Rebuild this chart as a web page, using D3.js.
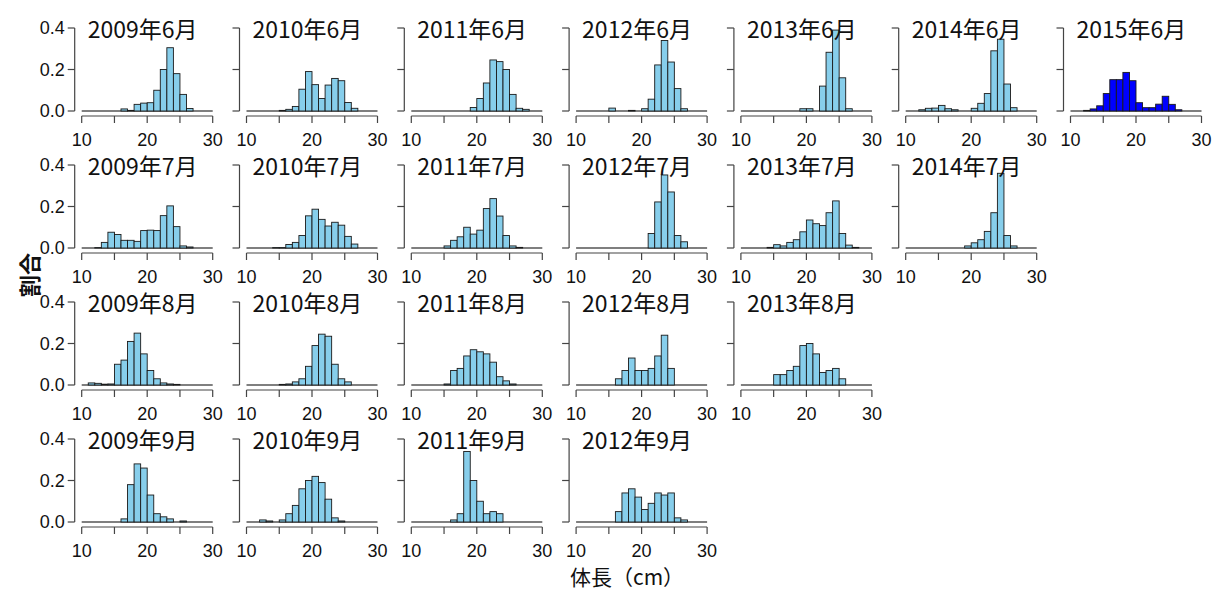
<!DOCTYPE html>
<html>
<head>
<meta charset="utf-8">
<script src="https://cdn.jsdelivr.net/npm/d3@7"></script>
<style>
	body { margin: 0; background: white; }
	svg text { font-family: "Liberation Sans", Arial, sans-serif; fill: #111; }
	svg text.cjk { font-family: "Noto Sans CJK JP", sans-serif; }
</style>
</head>
<body>
<div id="chart"></div>
<script>

// bin lower edges (1 cm bins from 10 to 30)
var bins = d3.range(10, 30);

var xTicks = [10, 15, 20, 25, 30];
var xTickLabels = ['10', '', '20', '', '30'];
var yTicks = [0, 0.2, 0.4];
var yTickLabels = ['0.0', '0.2', '0.4'];

var years = [2009, 2010, 2011, 2012, 2013, 2014, 2015];
var months = [6, 7, 8, 9];

// share of fish in each bin, 10..29
var jun2009 = [0,0,0,0,0, 0,0.01,0.003,0.032,0.038, 0.04,0.10,0.20,0.305,0.18, 0.08,0.012,0,0,0];
var jun2010 = [0,0,0,0,0, 0.003,0.008,0.022,0.105,0.19, 0.127,0.06,0.125,0.157,0.146, 0.041,0.013,0,0,0];
var jun2011 = [0,0,0,0,0, 0,0,0,0,0.017, 0.06,0.135,0.246,0.238,0.20, 0.08,0.013,0.008,0,0];
var jun2012 = [0,0,0,0,0, 0.014,0,0,0.003,0, 0.011,0.057,0.222,0.34,0.236, 0.108,0.011,0,0,0];
var jun2013 = [0,0,0,0,0, 0,0,0,0,0.011, 0.011,0,0.12,0.283,0.39, 0.16,0.011,0,0,0];
var jun2014 = [0,0,0.006,0.013,0.014, 0.027,0.011,0.006,0,0, 0.013,0.037,0.084,0.29,0.346, 0.13,0.016,0,0,0];
var jun2015 = [0,0,0.003,0.01,0.025, 0.084,0.151,0.151,0.186,0.146, 0.04,0.016,0.016,0.033,0.071, 0.032,0.006,0,0,0];

var jul2009 = [0,0,0.002,0.027,0.076, 0.065,0.037,0.037,0.032,0.084, 0.086,0.084,0.156,0.203,0.103, 0.01,0.005,0,0,0];
var jul2010 = [0,0,0,0,0.002, 0.002,0.017,0.027,0.06,0.155, 0.187,0.138,0.106,0.124,0.11, 0.056,0.019,0,0,0];
var jul2011 = [0,0,0,0,0, 0.01,0.037,0.054,0.1,0.067, 0.086,0.19,0.238,0.154,0.06, 0.01,0.003,0,0,0];
var jul2012 = [0,0,0,0,0, 0,0,0,0,0, 0,0.07,0.222,0.352,0.27, 0.06,0.03,0,0,0];
var jul2013 = [0,0,0,0,0.003, 0.016,0.01,0.027,0.04,0.078, 0.135,0.117,0.108,0.17,0.227, 0.07,0.014,0.003,0,0];
var jul2014 = [0,0,0,0,0, 0,0,0,0,0.01, 0.025,0.04,0.08,0.17,0.36, 0.06,0.01,0,0,0];

var aug2009 = [0,0.01,0.008,0.004,0.005, 0.1,0.12,0.21,0.25,0.15, 0.07,0.03,0.01,0.005,0.003, 0,0,0,0,0];
var aug2010 = [0,0,0,0,0, 0.003,0.005,0.015,0.03,0.09, 0.19,0.245,0.235,0.1,0.03, 0.015,0,0,0,0];
var aug2011 = [0,0,0,0,0, 0.005,0.07,0.08,0.14,0.17, 0.16,0.15,0.11,0.04,0.02, 0.005,0,0,0,0];
var aug2012 = [0,0,0,0,0, 0,0.03,0.07,0.13,0.07, 0.07,0.08,0.14,0.24,0.08, 0,0,0,0,0];
var aug2013 = [0,0,0,0,0, 0.05,0.05,0.07,0.09,0.19, 0.2,0.15,0.06,0.07,0.08, 0.03,0,0,0,0];

var sep2009 = [0,0,0,0,0, 0,0.015,0.18,0.28,0.26, 0.13,0.04,0.025,0.015,0, 0.005,0,0,0,0];
var sep2010 = [0,0,0.01,0.005,0, 0.01,0.04,0.08,0.16,0.2, 0.22,0.19,0.11,0.02,0.005, 0,0,0,0,0];
var sep2011 = [0,0,0,0,0, 0,0.01,0.04,0.34,0.2, 0.1,0.04,0.05,0.04,0, 0,0,0,0,0];
var sep2012 = [0,0,0,0,0, 0,0.05,0.14,0.16,0.12, 0.06,0.09,0.14,0.13,0.14, 0.02,0.01,0,0,0];

var byMonth = [
	[jun2009, jun2010, jun2011, jun2012, jun2013, jun2014, jun2015],
	[jul2009, jul2010, jul2011, jul2012, jul2013, jul2014],
	[aug2009, aug2010, aug2011, aug2012, aug2013],
	[sep2009, sep2010, sep2011, sep2012]
];

var highlightYear = 2015;

var width = 1213, height = 593;
var colStep = 164.8, rowStep = 137;
var panelLeft = 81.7, panelW = 131;
var panelBase = 111, panelH = 83;

var svg = d3.select('#chart').append('svg')
		.attr('width', width)
		.attr('height', height);

var x = d3.scaleLinear().domain([10, 30]).range([0, panelW]);
var y = d3.scaleLinear().domain([0, 0.4]).range([panelH, 0]);

/**
 * Draws one small histogram
 */
var drawPanel = function(values, row, col) {

	var g = svg.append('g')
		.attr('transform', 'translate(' + (panelLeft + col * colStep) + ',' + (panelBase - panelH + row * rowStep) + ')');

	var year = years[col];
	var fill = year == highlightYear ? '#0000ff' : '#87ceeb';

	// zero line under the bins (empty bins show as a flat line)
	g.append('line')
		.attr('x1', x(bins[0])).attr('x2', x(bins[bins.length - 1] + 1))
		.attr('y1', y(0)).attr('y2', y(0))
		.style('stroke', '#555').style('stroke-width', 1.3);

	g.selectAll('.bar').data(bins).enter().append('rect')
		.attr('class', 'bar')
		.attr('x', function(d) {return x(d);})
		.attr('width', function(d) {return x(d + 1) - x(d);})
		.attr('y', function(d, i) {return y(values[i]);})
		.attr('height', function(d, i) {return y(0) - y(values[i]);})
		.style('fill', fill)
		.style('stroke', '#1a1a1a')
		.style('stroke-width', 0.9);

	// y axis
	var yAxis = g.append('g').attr('transform', 'translate(-7,0)');
	yAxis.append('line')
		.attr('x1', 0).attr('x2', 0)
		.attr('y1', y(0)).attr('y2', y(0.4))
		.style('stroke', '#444').style('stroke-width', 1.2);
	yAxis.selectAll('.ytick').data(yTicks).enter().append('line')
		.attr('class', 'ytick')
		.attr('x1', -7).attr('x2', 0)
		.attr('y1', function(d) {return y(d);})
		.attr('y2', function(d) {return y(d);})
		.style('stroke', '#444').style('stroke-width', 1.2);

	if (col == 0) {
		yAxis.selectAll('.ylab').data(yTicks).enter().append('text')
			.attr('class', 'ylab')
			.attr('text-anchor', 'end')
			.attr('x', -10)
			.attr('y', function(d) {return y(d) + 6;})
			.attr('font-size', '18px')
			.text(function(d, i) {return yTickLabels[i];});
	}

	// x axis
	var xAxis = g.append('g').attr('transform', 'translate(0,' + (panelH + 5) + ')');
	xAxis.append('line')
		.attr('x1', x(10)).attr('x2', x(30))
		.attr('y1', 0).attr('y2', 0)
		.style('stroke', '#444').style('stroke-width', 1.2);
	xAxis.selectAll('.xtick').data(xTicks).enter().append('line')
		.attr('class', 'xtick')
		.attr('x1', function(d) {return x(d);})
		.attr('x2', function(d) {return x(d);})
		.attr('y1', 0).attr('y2', 7)
		.style('stroke', '#444').style('stroke-width', 1.2);
	xAxis.selectAll('.xlab').data(xTicks).enter().append('text')
		.attr('class', 'xlab')
		.attr('text-anchor', 'middle')
		.attr('x', function(d) {return x(d);})
		.attr('y', 30)
		.attr('font-size', '18px')
		.text(function(d, i) {return xTickLabels[i];});

	g.append('text')
		.attr('class', 'cjk')
		.attr('x', 6)
		.attr('y', 10)
		.attr('font-size', '23px')
		.text(year + '年' + months[row] + '月');
};

byMonth.forEach(function(list, row) {
	list.forEach(function(values, col) {drawPanel(values, row, col);});
});

svg.append('text')
	.attr('class', 'cjk')
	.attr('text-anchor', 'middle')
	.attr('transform', 'translate(38,275) rotate(-90)')
	.attr('font-size', '22px')
	.attr('font-weight', 'bold')
	.text('割合');

svg.append('text')
	.attr('class', 'cjk')
	.attr('text-anchor', 'middle')
	.attr('x', 627)
	.attr('y', 585)
	.attr('font-size', '21px')
	.text('体長（cm）');

</script>
</body>
</html>
